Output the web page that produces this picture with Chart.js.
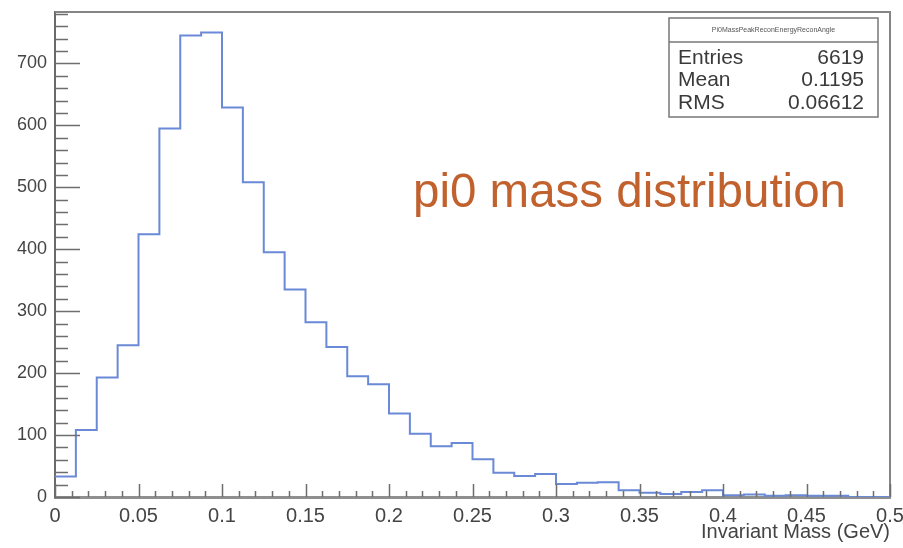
<!DOCTYPE html>
<html>
<head>
<meta charset="utf-8">
<script src="https://cdn.jsdelivr.net/npm/chart.js@4.4.0/dist/chart.umd.min.js"></script>
<style>
  html, body { margin: 0; padding: 0; background: #fff; }
  #massChart { display: block; }
</style>
</head>
<body>
<canvas id="massChart" width="903" height="548"></canvas>
<script>
// histogram binning: 40 bins over 0 - 0.5 GeV
var nBins = 40;
var xLow = 0;
var xHigh = 0.5;
var counts = [33, 108, 193, 245, 424, 595, 745, 750, 629, 508,
              395, 335, 282, 242, 195, 182, 135, 102, 82, 87,
              61, 39, 34, 37, 21, 23, 24, 11, 7, 5,
              8, 11, 3, 4, 2, 3, 2, 2, 0, 0];

var xTicks = [0, 0.05, 0.1, 0.15, 0.2, 0.25, 0.3, 0.35, 0.4, 0.45, 0.5];
var yTicks = [0, 100, 200, 300, 400, 500, 600, 700];
var yMax = 783;

var histName = 'Pi0MassPeakReconEnergyReconAngle';
var statNames = ['Entries', 'Mean', 'RMS'];
var statValues = ['6619', '0.1195', '0.06612'];
var xTitle = 'Invariant Mass (GeV)';
var noteText = 'pi0 mass distribution';

var FONT = "'Liberation Sans', Arial, Helvetica, sans-serif";

// points at the low edge of every bin, plus the upper edge of the last one
var binWidth = (xHigh - xLow) / nBins;
var histPoints = [];
for (var i = 0; i < nBins; i++) {
	histPoints.push({ x: xLow + i * binWidth, y: counts[i] });
}
histPoints.push({ x: xHigh, y: counts[nBins - 1] });

// frame, inner ticks, stats box and the note
var rootFrame = {
	id: 'rootFrame',
	afterDraw: function(chart) {
		var ctx = chart.ctx;
		var area = chart.chartArea;
		var xs = chart.scales.x;
		var ys = chart.scales.y;

		ctx.save();
		// top and right frame
		ctx.strokeStyle = '#858585';
		ctx.lineWidth = 2;
		ctx.beginPath();
		ctx.moveTo(area.left, area.top);
		ctx.lineTo(area.right, area.top);
		ctx.lineTo(area.right, area.bottom);
		ctx.stroke();

		// y ticks, every 20, long ones every 100
		ctx.strokeStyle = '#6e6e6e';
		ctx.lineWidth = 1.5;
		ctx.beginPath();
		for (var v = 0; v <= yMax; v += 20) {
			var py = Math.round(ys.getPixelForValue(v)) + 0.5;
			var len = (v % 100 === 0) ? 25 : 13;
			ctx.moveTo(area.left, py);
			ctx.lineTo(area.left + len, py);
		}
		// x ticks, every 0.01, long ones every 0.05
		for (var k = 0; k <= 50; k++) {
			var px = Math.round(xs.getPixelForValue(k / 100)) + 0.5;
			var l2 = (k % 5 === 0) ? 13 : 6;
			ctx.moveTo(px, area.bottom);
			ctx.lineTo(px, area.bottom - l2);
		}
		ctx.stroke();

		// stats box
		var bw = 209, bh = 99;
		var bx = area.right - 12 - bw;
		var by = area.top + 6;
		ctx.fillStyle = '#fff';
		ctx.fillRect(bx, by, bw, bh);
		ctx.strokeStyle = '#777';
		ctx.lineWidth = 1.5;
		ctx.strokeRect(bx, by, bw, bh);
		ctx.beginPath();
		ctx.moveTo(bx, by + 24);
		ctx.lineTo(bx + bw, by + 24);
		ctx.stroke();

		ctx.fillStyle = '#555';
		ctx.font = '7px ' + FONT;
		ctx.textAlign = 'center';
		ctx.textBaseline = 'middle';
		ctx.fillText(histName, bx + bw / 2, by + 12, bw - 16);

		ctx.font = '21px ' + FONT;
		ctx.fillStyle = '#3a3a3a';
		for (var s = 0; s < statNames.length; s++) {
			var ry = by + 40 + s * 22.5;
			ctx.textAlign = 'left';
			ctx.fillText(statNames[s], bx + 9, ry);
			ctx.textAlign = 'right';
			ctx.fillText(statValues[s], bx + bw - 14, ry);
		}

		// note
		ctx.font = '47.5px ' + FONT;
		ctx.fillStyle = '#c1612e';
		ctx.textAlign = 'left';
		ctx.textBaseline = 'alphabetic';
		ctx.fillText(noteText, 413, 207);
		ctx.restore();
	}
};

var massChart = new Chart(document.getElementById('massChart'), {
	type: 'line',
	data: {
		datasets: [{
			data: histPoints,
			stepped: 'before',
			borderColor: '#6a89d6',
			borderWidth: 2,
			pointRadius: 0,
			fill: false,
			tension: 0
		}]
	},
	options: {
		responsive: false,
		animation: false,
		layout: { padding: { top: 12, right: 13, left: 0, bottom: 0 } },
		plugins: {
			legend: { display: false },
			tooltip: { enabled: false }
		},
		scales: {
			x: {
				type: 'linear',
				min: xLow,
				max: xHigh,
				grid: { display: false, drawTicks: false },
				border: { display: true, color: '#8f8f8f', width: 3 },
				ticks: {
					padding: 7,
					color: '#444',
					maxRotation: 0,
					autoSkip: false,
					font: { family: FONT, size: 20 },
					callback: function(value) {
						return String(+value.toFixed(2));
					}
				},
				afterBuildTicks: function(scale) {
					scale.ticks = xTicks.map(function(v) { return { value: v }; });
				},
				afterFit: function(scale) {
					scale.height = 51;
					scale.paddingLeft = 0;
					scale.paddingRight = 0;
				},
				title: {
					display: true,
					text: xTitle,
					align: 'end',
					color: '#444',
					font: { family: FONT, size: 20 },
					padding: { top: 0, bottom: 4 }
				}
			},
			y: {
				min: 0,
				max: yMax,
				grid: { display: false, drawTicks: false },
				border: { display: true, color: '#6a6a6a', width: 2 },
				ticks: {
					padding: 8,
					color: '#444',
					font: { family: FONT, size: 18 },
					callback: function(value) {
						return String(value);
					}
				},
				afterBuildTicks: function(scale) {
					scale.ticks = yTicks.map(function(v) { return { value: v }; });
				},
				afterFit: function(scale) {
					scale.width = 55;
					scale.paddingTop = 0;
					scale.paddingBottom = 0;
				}
			}
		}
	},
	plugins: [rootFrame]
});
</script>
</body>
</html>
